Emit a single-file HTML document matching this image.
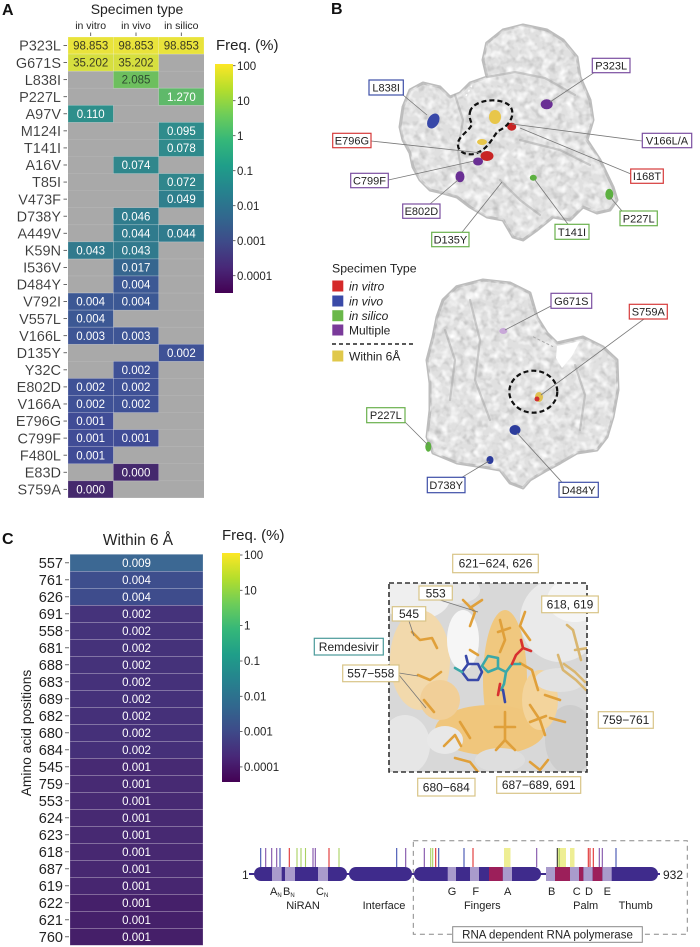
<!DOCTYPE html>
<html><head><meta charset="utf-8">
<style>
html,body{margin:0;padding:0;background:#fff;width:700px;height:947px;overflow:hidden}
svg{display:block}
text{font-family:"Liberation Sans",Arial,sans-serif}
.rl{font-size:14.5px;text-anchor:end;fill:#222}
.cv{font-size:11.5px;text-anchor:middle;fill:#fff}
.cd{fill:#3a3a22}
.tk{stroke:#444;stroke-width:0.8}
.cb{font-size:11.5px;fill:#222}
.lb{font-size:11px;text-anchor:middle;fill:#222}
.lc{font-size:12px;text-anchor:middle;fill:#222}
.dm{font-size:11px;text-anchor:middle;fill:#222}
.ll{stroke:#777;stroke-width:0.8;fill:none}
.st{stroke:#e0a03a;stroke-width:2.6;fill:none;stroke-linecap:round;stroke-linejoin:round}
</style></head><body>
<svg width="700" height="947" viewBox="0 0 700 947" xmlns="http://www.w3.org/2000/svg">
<defs>
<linearGradient id="vir" x1="0" y1="0" x2="0" y2="1">
<stop offset="0" stop-color="#fde725"/><stop offset="0.111" stop-color="#b4de2c"/><stop offset="0.222" stop-color="#6dcd59"/><stop offset="0.333" stop-color="#35b779"/><stop offset="0.444" stop-color="#1f9e89"/><stop offset="0.556" stop-color="#26828e"/><stop offset="0.667" stop-color="#31688e"/><stop offset="0.778" stop-color="#3e4a89"/><stop offset="0.889" stop-color="#482878"/><stop offset="1" stop-color="#440154"/>
</linearGradient>
<filter id="tex" x="0" y="0" width="1" height="1">
<feTurbulence type="fractalNoise" baseFrequency="0.14" numOctaves="2" seed="7"/>
<feColorMatrix type="matrix" values="0 0 0 0 0.45  0 0 0 0 0.45  0 0 0 0 0.45  1.8 0 0 0 -0.85"/>
<feComposite in2="SourceGraphic" operator="in"/>
</filter>
<filter id="hil" x="0" y="0" width="1" height="1">
<feTurbulence type="fractalNoise" baseFrequency="0.12" numOctaves="2" seed="21"/>
<feColorMatrix type="matrix" values="0 0 0 0 1  0 0 0 0 1  0 0 0 0 1  2.4 0 0 0 -1.05"/>
<feComposite in2="SourceGraphic" operator="in"/>
</filter>
<clipPath id="cbox"><rect x="389" y="583" width="198" height="189"/></clipPath>
<path id="prot1" d="M486.7,43 L503,30 L523,25 L547,30 L563,40 L577,57 L580,77 L590,100 L593,120 L587,140 L600,160 L613,187 L617,200 L610,210 L597,213 L583,207 L570,220 L553,217 L537,230 L523,240 L513,237 L503,220 L487,217 L470,207 L457,197 L443,193 L430,190 L420,180 L413,167 L410,153 L403,140 L400,127 L403,107 L410,90 L423,83 L440,87 L450,97 L460,93 L470,83 L487,77 L483,60 Z"/>
<path id="prot2" d="M456.7,286.7 L483,280 L510,283 L530,293 L537,317 L547,333 L557,343 L583,337 L603,347 L617,360 L618,390 L613,417 L607,437 L597,450 L577,453 L560,463 L547,470 L530,480 L523,488 L510,483 L500,470 L483,467 L457,463 L433,453 L427,437 L430,410 L430,383 L427,360 L433,337 L437,317 L443,300 Z"/>
</defs>

<!-- ============ PANEL A ============ -->
<text x="2" y="15" style="font-size:16px;font-weight:bold;fill:#111">A</text>
<text x="137" y="14" style="font-size:14px;text-anchor:middle;fill:#222">Specimen type</text>
<text x="90.7" y="29" style="font-size:10.5px;text-anchor:middle;fill:#222">in vitro</text>
<text x="136" y="29" style="font-size:10.5px;text-anchor:middle;fill:#222">in vivo</text>
<text x="181.3" y="29" style="font-size:10.5px;text-anchor:middle;fill:#222">in silico</text>
<line x1="90.7" x2="90.7" y1="32.5" y2="36" class="tk"/><line x1="136" x2="136" y1="32.5" y2="36" class="tk"/><line x1="181.3" x2="181.3" y1="32.5" y2="36" class="tk"/>

<rect x="68" y="37" width="136" height="460.9" fill="#a9a9a9"/>
<g stroke="#b6b6b6" stroke-width="0.6">
<line x1="68" x2="204" y1="54.07" y2="54.07"/><line x1="68" x2="204" y1="71.14" y2="71.14"/><line x1="68" x2="204" y1="88.21" y2="88.21"/><line x1="68" x2="204" y1="105.28" y2="105.28"/><line x1="68" x2="204" y1="122.35" y2="122.35"/><line x1="68" x2="204" y1="139.42" y2="139.42"/><line x1="68" x2="204" y1="156.49" y2="156.49"/><line x1="68" x2="204" y1="173.56" y2="173.56"/><line x1="68" x2="204" y1="190.63" y2="190.63"/><line x1="68" x2="204" y1="207.7" y2="207.7"/><line x1="68" x2="204" y1="224.77" y2="224.77"/><line x1="68" x2="204" y1="241.84" y2="241.84"/><line x1="68" x2="204" y1="258.91" y2="258.91"/><line x1="68" x2="204" y1="275.98" y2="275.98"/><line x1="68" x2="204" y1="293.05" y2="293.05"/><line x1="68" x2="204" y1="310.12" y2="310.12"/><line x1="68" x2="204" y1="327.19" y2="327.19"/><line x1="68" x2="204" y1="344.26" y2="344.26"/><line x1="68" x2="204" y1="361.33" y2="361.33"/><line x1="68" x2="204" y1="378.4" y2="378.4"/><line x1="68" x2="204" y1="395.47" y2="395.47"/><line x1="68" x2="204" y1="412.54" y2="412.54"/><line x1="68" x2="204" y1="429.61" y2="429.61"/><line x1="68" x2="204" y1="446.68" y2="446.68"/><line x1="68" x2="204" y1="463.75" y2="463.75"/><line x1="68" x2="204" y1="480.82" y2="480.82"/>
</g>

<g stroke="rgba(255,255,255,0.35)" stroke-width="0.6">
<g transform="translate(0,37)"><text x="61" y="13.7" class="rl">P323L</text><line x1="63.5" x2="67" y1="8.5" y2="8.5" class="tk"/>
<rect x="68" width="45.33" height="17.07" fill="#e9e33b"/><rect x="113.33" width="45.33" height="17.07" fill="#e9e33b"/><rect x="158.67" width="45.33" height="17.07" fill="#e9e33b"/>
<text x="90.67" y="12.6" class="cv cd" stroke="none">98.853</text><text x="136" y="12.6" class="cv cd" stroke="none">98.853</text><text x="181.33" y="12.6" class="cv cd" stroke="none">98.853</text></g>
<g transform="translate(0,54.07)"><text x="61" y="13.7" class="rl">G671S</text><line x1="63.5" x2="67" y1="8.5" y2="8.5" class="tk"/>
<rect x="68" width="45.33" height="17.07" fill="#d6df3f"/><rect x="113.33" width="45.33" height="17.07" fill="#d6df3f"/>
<text x="90.67" y="12.6" class="cv cd" stroke="none">35.202</text><text x="136" y="12.6" class="cv cd" stroke="none">35.202</text></g>
<g transform="translate(0,71.14)"><text x="61" y="13.7" class="rl">L838I</text><line x1="63.5" x2="67" y1="8.5" y2="8.5" class="tk"/>
<rect x="113.33" width="45.33" height="17.07" fill="#6dbf5e"/><text x="136" y="12.6" class="cv" style="fill:#2e4a30" stroke="none">2.085</text></g>
<g transform="translate(0,88.21)"><text x="61" y="13.7" class="rl">P227L</text><line x1="63.5" x2="67" y1="8.5" y2="8.5" class="tk"/>
<rect x="158.67" width="45.33" height="17.07" fill="#5fb96a"/><text x="181.33" y="12.6" class="cv" stroke="none">1.270</text></g>
<g transform="translate(0,105.28)"><text x="61" y="13.7" class="rl">A97V</text><line x1="63.5" x2="67" y1="8.5" y2="8.5" class="tk"/>
<rect x="68" width="45.33" height="17.07" fill="#2e8f8b"/><text x="90.67" y="12.6" class="cv" stroke="none">0.110</text></g>
<g transform="translate(0,122.35)"><text x="61" y="13.7" class="rl">M124I</text><line x1="63.5" x2="67" y1="8.5" y2="8.5" class="tk"/>
<rect x="158.67" width="45.33" height="17.07" fill="#2f8c8c"/><text x="181.33" y="12.6" class="cv" stroke="none">0.095</text></g>
<g transform="translate(0,139.42)"><text x="61" y="13.7" class="rl">T141I</text><line x1="63.5" x2="67" y1="8.5" y2="8.5" class="tk"/>
<rect x="158.67" width="45.33" height="17.07" fill="#2f8a8c"/><text x="181.33" y="12.6" class="cv" stroke="none">0.078</text></g>
<g transform="translate(0,156.49)"><text x="61" y="13.7" class="rl">A16V</text><line x1="63.5" x2="67" y1="8.5" y2="8.5" class="tk"/>
<rect x="113.33" width="45.33" height="17.07" fill="#30878c"/><text x="136" y="12.6" class="cv" stroke="none">0.074</text></g>
<g transform="translate(0,173.56)"><text x="61" y="13.7" class="rl">T85I</text><line x1="63.5" x2="67" y1="8.5" y2="8.5" class="tk"/>
<rect x="158.67" width="45.33" height="17.07" fill="#30868c"/><text x="181.33" y="12.6" class="cv" stroke="none">0.072</text></g>
<g transform="translate(0,190.63)"><text x="61" y="13.7" class="rl">V473F</text><line x1="63.5" x2="67" y1="8.5" y2="8.5" class="tk"/>
<rect x="158.67" width="45.33" height="17.07" fill="#2f7f8d"/><text x="181.33" y="12.6" class="cv" stroke="none">0.049</text></g>
<g transform="translate(0,207.7)"><text x="61" y="13.7" class="rl">D738Y</text><line x1="63.5" x2="67" y1="8.5" y2="8.5" class="tk"/>
<rect x="113.33" width="45.33" height="17.07" fill="#307c8d"/><text x="136" y="12.6" class="cv" stroke="none">0.046</text></g>
<g transform="translate(0,224.77)"><text x="61" y="13.7" class="rl">A449V</text><line x1="63.5" x2="67" y1="8.5" y2="8.5" class="tk"/>
<rect x="113.33" width="45.33" height="17.07" fill="#307b8d"/><rect x="158.67" width="45.33" height="17.07" fill="#307b8d"/>
<text x="136" y="12.6" class="cv" stroke="none">0.044</text><text x="181.33" y="12.6" class="cv" stroke="none">0.044</text></g>
<g transform="translate(0,241.84)"><text x="61" y="13.7" class="rl">K59N</text><line x1="63.5" x2="67" y1="8.5" y2="8.5" class="tk"/>
<rect x="68" width="45.33" height="17.07" fill="#317a8d"/><rect x="113.33" width="45.33" height="17.07" fill="#317a8d"/>
<text x="90.67" y="12.6" class="cv" stroke="none">0.043</text><text x="136" y="12.6" class="cv" stroke="none">0.043</text></g>
<g transform="translate(0,258.91)"><text x="61" y="13.7" class="rl">I536V</text><line x1="63.5" x2="67" y1="8.5" y2="8.5" class="tk"/>
<rect x="113.33" width="45.33" height="17.07" fill="#36668f"/><text x="136" y="12.6" class="cv" stroke="none">0.017</text></g>
<g transform="translate(0,275.98)"><text x="61" y="13.7" class="rl">D484Y</text><line x1="63.5" x2="67" y1="8.5" y2="8.5" class="tk"/>
<rect x="113.33" width="45.33" height="17.07" fill="#3c5894"/><text x="136" y="12.6" class="cv" stroke="none">0.004</text></g>
<g transform="translate(0,293.05)"><text x="61" y="13.7" class="rl">V792I</text><line x1="63.5" x2="67" y1="8.5" y2="8.5" class="tk"/>
<rect x="68" width="45.33" height="17.07" fill="#3c5894"/><rect x="113.33" width="45.33" height="17.07" fill="#3c5894"/>
<text x="90.67" y="12.6" class="cv" stroke="none">0.004</text><text x="136" y="12.6" class="cv" stroke="none">0.004</text></g>
<g transform="translate(0,310.12)"><text x="61" y="13.7" class="rl">V557L</text><line x1="63.5" x2="67" y1="8.5" y2="8.5" class="tk"/>
<rect x="68" width="45.33" height="17.07" fill="#3c5894"/><text x="90.67" y="12.6" class="cv" stroke="none">0.004</text></g>
<g transform="translate(0,327.19)"><text x="61" y="13.7" class="rl">V166L</text><line x1="63.5" x2="67" y1="8.5" y2="8.5" class="tk"/>
<rect x="68" width="45.33" height="17.07" fill="#3e5595"/><rect x="113.33" width="45.33" height="17.07" fill="#3e5595"/>
<text x="90.67" y="12.6" class="cv" stroke="none">0.003</text><text x="136" y="12.6" class="cv" stroke="none">0.003</text></g>
<g transform="translate(0,344.26)"><text x="61" y="13.7" class="rl">D135Y</text><line x1="63.5" x2="67" y1="8.5" y2="8.5" class="tk"/>
<rect x="158.67" width="45.33" height="17.07" fill="#3f5296"/><text x="181.33" y="12.6" class="cv" stroke="none">0.002</text></g>
<g transform="translate(0,361.33)"><text x="61" y="13.7" class="rl">Y32C</text><line x1="63.5" x2="67" y1="8.5" y2="8.5" class="tk"/>
<rect x="113.33" width="45.33" height="17.07" fill="#3f5196"/><text x="136" y="12.6" class="cv" stroke="none">0.002</text></g>
<g transform="translate(0,378.4)"><text x="61" y="13.7" class="rl">E802D</text><line x1="63.5" x2="67" y1="8.5" y2="8.5" class="tk"/>
<rect x="68" width="45.33" height="17.07" fill="#3f5196"/><rect x="113.33" width="45.33" height="17.07" fill="#3f5196"/>
<text x="90.67" y="12.6" class="cv" stroke="none">0.002</text><text x="136" y="12.6" class="cv" stroke="none">0.002</text></g>
<g transform="translate(0,395.47)"><text x="61" y="13.7" class="rl">V166A</text><line x1="63.5" x2="67" y1="8.5" y2="8.5" class="tk"/>
<rect x="68" width="45.33" height="17.07" fill="#3f5196"/><rect x="113.33" width="45.33" height="17.07" fill="#3f5196"/>
<text x="90.67" y="12.6" class="cv" stroke="none">0.002</text><text x="136" y="12.6" class="cv" stroke="none">0.002</text></g>
<g transform="translate(0,412.54)"><text x="61" y="13.7" class="rl">E796G</text><line x1="63.5" x2="67" y1="8.5" y2="8.5" class="tk"/>
<rect x="68" width="45.33" height="17.07" fill="#404c96"/><text x="90.67" y="12.6" class="cv" stroke="none">0.001</text></g>
<g transform="translate(0,429.61)"><text x="61" y="13.7" class="rl">C799F</text><line x1="63.5" x2="67" y1="8.5" y2="8.5" class="tk"/>
<rect x="68" width="45.33" height="17.07" fill="#404c96"/><rect x="113.33" width="45.33" height="17.07" fill="#404c96"/>
<text x="90.67" y="12.6" class="cv" stroke="none">0.001</text><text x="136" y="12.6" class="cv" stroke="none">0.001</text></g>
<g transform="translate(0,446.68)"><text x="61" y="13.7" class="rl">F480L</text><line x1="63.5" x2="67" y1="8.5" y2="8.5" class="tk"/>
<rect x="68" width="45.33" height="17.07" fill="#404c96"/><text x="90.67" y="12.6" class="cv" stroke="none">0.001</text></g>
<g transform="translate(0,463.75)"><text x="61" y="13.7" class="rl">E83D</text><line x1="63.5" x2="67" y1="8.5" y2="8.5" class="tk"/>
<rect x="113.33" width="45.33" height="17.07" fill="#45296d"/><text x="136" y="12.6" class="cv" stroke="none">0.000</text></g>
<g transform="translate(0,480.82)"><text x="61" y="13.7" class="rl">S759A</text><line x1="63.5" x2="67" y1="8.5" y2="8.5" class="tk"/>
<rect x="68" width="45.33" height="17.07" fill="#45296d"/><text x="90.67" y="12.6" class="cv" stroke="none">0.000</text></g>
</g>

<!-- colorbar A -->
<text x="216" y="50" style="font-size:15px;fill:#222">Freq. (%)</text>
<rect x="215" y="64" width="18" height="229" fill="url(#vir)"/>
<g class="tk"><line x1="233" x2="235.5" y1="65.7" y2="65.7"/><line x1="233" x2="235.5" y1="100.7" y2="100.7"/><line x1="233" x2="235.5" y1="135.7" y2="135.7"/><line x1="233" x2="235.5" y1="170.7" y2="170.7"/><line x1="233" x2="235.5" y1="205.7" y2="205.7"/><line x1="233" x2="235.5" y1="240.7" y2="240.7"/><line x1="233" x2="235.5" y1="275.7" y2="275.7"/></g>
<text x="237" y="69.8" class="cb">100</text><text x="237" y="104.8" class="cb">10</text><text x="237" y="139.8" class="cb">1</text><text x="237" y="174.8" class="cb">0.1</text><text x="237" y="209.8" class="cb">0.01</text><text x="237" y="244.8" class="cb">0.001</text><text x="237" y="279.8" class="cb">0.0001</text>

<!-- ============ PANEL B ============ -->
<text x="331" y="14" style="font-size:16px;font-weight:bold;fill:#111">B</text>

<!-- top protein -->
<use href="#prot1" fill="#e0e0e0" stroke="#bdbdbd" stroke-width="3" stroke-linejoin="round"/>
<use href="#prot1" fill="#000" filter="url(#tex)"/>
<use href="#prot1" fill="#000" filter="url(#hil)"/>
<g stroke="#a4a4a4" stroke-width="2.2" fill="none" opacity="0.5" stroke-linecap="round">
<path d="M455,95 L463,120 L458,150 L462,175"/>
<path d="M487,77 L515,72 L545,78 L575,95"/>
<path d="M520,140 L560,150 L590,165"/>
<path d="M500,180 L520,200 L540,215"/>
</g>
<line x1="466" y1="96" x2="472" y2="85" stroke="#fff" stroke-width="1.5" stroke-dasharray="2,3"/>

<!-- spots top -->
<ellipse cx="433.3" cy="121" rx="5.5" ry="8" fill="#3848a8" transform="rotate(30 433.3 121)"/>
<ellipse cx="546.7" cy="104.3" rx="6" ry="5" fill="#6a2f94"/>
<ellipse cx="495" cy="117" rx="6" ry="7" fill="#e8c64a"/>
<ellipse cx="482" cy="142" rx="5" ry="3" fill="#e8c64a"/>
<ellipse cx="511.7" cy="126.7" rx="4.5" ry="4" fill="#c82424"/>
<ellipse cx="487" cy="156" rx="6.5" ry="5" fill="#c82424"/>
<ellipse cx="478" cy="161.5" rx="5" ry="4" fill="#6a2f94"/>
<ellipse cx="460" cy="176.7" rx="4.5" ry="5.5" fill="#6a2f94"/>
<ellipse cx="533.3" cy="177.7" rx="3.5" ry="3" fill="#5cb040"/>
<ellipse cx="609.3" cy="194.3" rx="4" ry="5.5" fill="#5cb040"/>
<path d="M470,112 C472,100 500,96 510,106 C516,114 510,126 498,131 C492,138 488,150 474,154 C462,156 455,148 459,140 C462,134 470,130 472,124 C470,120 469,116 470,112 Z" fill="none" stroke="#111" stroke-width="2.2" stroke-dasharray="5,3"/>

<!-- leader lines top -->
<g class="ll">
<line x1="403" y1="95" x2="427" y2="115"/>
<line x1="594" y1="72.7" x2="550" y2="102"/>
<line x1="371" y1="141" x2="482" y2="153"/>
<line x1="642.3" y1="141" x2="512" y2="124"/>
<line x1="631" y1="174" x2="520" y2="128"/>
<line x1="388.3" y1="180" x2="474" y2="161"/>
<line x1="430" y1="204" x2="458" y2="180"/>
<line x1="462" y1="232.3" x2="502" y2="182"/>
<line x1="568" y1="224.3" x2="535" y2="180"/>
<line x1="622" y1="211" x2="610" y2="197"/>
</g>

<!-- label boxes top -->
<g fill="#fff" stroke-width="1.2">
<rect x="592.3" y="58.3" width="37.7" height="14.4" stroke="#7b4fa0"/>
<rect x="369" y="80" width="34.3" height="15" stroke="#3e4fa8"/>
<rect x="332.7" y="133.3" width="38.3" height="14.4" stroke="#d63a3a"/>
<rect x="642.3" y="133.3" width="49.4" height="14.4" stroke="#7b4fa0"/>
<rect x="350.7" y="173.3" width="37.6" height="14.4" stroke="#7b4fa0"/>
<rect x="630.7" y="169" width="32.6" height="14.3" stroke="#d63a3a"/>
<rect x="402.7" y="204" width="37.3" height="14.3" stroke="#7b4fa0"/>
<rect x="620" y="211" width="37.3" height="14.7" stroke="#6ab04c"/>
<rect x="555" y="224.3" width="34" height="15" stroke="#6ab04c"/>
<rect x="431.7" y="232.3" width="37.3" height="14.4" stroke="#6ab04c"/>
</g>
<text x="611.2" y="69.5" class="lb">P323L</text>
<text x="386.2" y="91.5" class="lb">L838I</text>
<text x="351.9" y="144.5" class="lb">E796G</text>
<text x="667" y="144.5" class="lb">V166L/A</text>
<text x="369.5" y="184.5" class="lb">C799F</text>
<text x="647" y="180" class="lb">I168T</text>
<text x="421.4" y="215.2" class="lb">E802D</text>
<text x="638.7" y="222.4" class="lb">P227L</text>
<text x="572" y="235.8" class="lb">T141I</text>
<text x="450.4" y="243.5" class="lb">D135Y</text>

<!-- legend -->
<text x="332" y="272.5" style="font-size:12.3px;fill:#222">Specimen Type</text>
<rect x="332.3" y="280.5" width="11" height="11" fill="#d42a2a"/>
<rect x="332.3" y="295.5" width="11" height="11" fill="#3a4aa8"/>
<rect x="332.3" y="310.2" width="11" height="11" fill="#6ab84a"/>
<rect x="332.3" y="324.5" width="11" height="11" fill="#7a3a9a"/>
<text x="349" y="290.5" style="font-size:12px;font-style:italic;fill:#222">in vitro</text>
<text x="349" y="305.5" style="font-size:12px;font-style:italic;fill:#222">in vivo</text>
<text x="349" y="320.2" style="font-size:12px;font-style:italic;fill:#222">in silico</text>
<text x="349" y="334.5" style="font-size:12px;fill:#222">Multiple</text>
<line x1="332" y1="344" x2="415" y2="344" stroke="#222" stroke-width="1.4" stroke-dasharray="4,3"/>
<rect x="332.3" y="350.5" width="11" height="11" fill="#e0c84a"/>
<text x="349" y="360.5" style="font-size:12px;fill:#222">Within 6Å</text>

<!-- bottom protein -->
<use href="#prot2" fill="#e0e0e0" stroke="#bdbdbd" stroke-width="3" stroke-linejoin="round"/>
<use href="#prot2" fill="#000" filter="url(#tex)"/>
<use href="#prot2" fill="#000" filter="url(#hil)"/>
<path d="M557,346 L580,341 L572,356 L562,368 L556,358 Z" fill="#fff"/>
<g stroke="#a4a4a4" stroke-width="2.2" fill="none" opacity="0.5" stroke-linecap="round">
<path d="M470,300 L480,340 L475,380 L490,420"/>
<path d="M575,365 L585,395 L580,430"/>
<path d="M445,330 L455,360 L450,400"/>
</g>
<line x1="533" y1="336.7" x2="553" y2="346.7" stroke="#aaa" stroke-width="1" stroke-dasharray="3,2"/>
<ellipse cx="503.3" cy="331" rx="4" ry="3" fill="#c8a8d8"/>
<ellipse cx="539" cy="397" rx="4" ry="5" fill="#e0c050"/>
<ellipse cx="537" cy="399" rx="2.5" ry="2.5" fill="#d03030"/>
<ellipse cx="515" cy="430" rx="5.5" ry="5" fill="#2c3c9c"/>
<ellipse cx="428.3" cy="446.7" rx="3" ry="5" fill="#5cb040"/>
<ellipse cx="490" cy="460" rx="3.5" ry="4" fill="#2c3c9c"/>
<ellipse cx="533.3" cy="391.7" rx="24" ry="21" fill="none" stroke="#111" stroke-width="2.2" stroke-dasharray="5,3"/>
<g class="ll">
<line x1="551" y1="306" x2="505" y2="330"/>
<line x1="644" y1="319" x2="541" y2="395"/>
<line x1="405" y1="422" x2="428" y2="445"/>
<line x1="462" y1="477.3" x2="489" y2="461"/>
<line x1="562" y1="482.3" x2="517" y2="433"/>
</g>
<g fill="#fff" stroke-width="1.2">
<rect x="551" y="293.3" width="40.7" height="15" stroke="#7b4fa0"/>
<rect x="629.3" y="304.3" width="38" height="14.7" stroke="#d63a3a"/>
<rect x="366.7" y="407.7" width="38.3" height="15" stroke="#6ab04c"/>
<rect x="427.3" y="477.3" width="37.7" height="15.4" stroke="#3e4fa8"/>
<rect x="559" y="482.3" width="39.3" height="15" stroke="#3e4fa8"/>
</g>
<text x="571.3" y="304.8" class="lb">G671S</text>
<text x="648.3" y="315.7" class="lb">S759A</text>
<text x="385.8" y="419.2" class="lb">P227L</text>
<text x="446.2" y="489" class="lb">D738Y</text>
<text x="578.6" y="493.8" class="lb">D484Y</text>

<!-- ============ PANEL C ============ -->
<text x="2" y="544" style="font-size:16px;font-weight:bold;fill:#111">C</text>
<text x="138" y="545" style="font-size:15.4px;text-anchor:middle;fill:#222">Within 6 Å</text>
<text transform="translate(31,733) rotate(-90)" style="font-size:13.8px;text-anchor:middle;fill:#222">Amino acid positions</text>

<g stroke="rgba(255,255,255,0.35)" stroke-width="0.6">
<g transform="translate(0,554.3)"><rect x="70" width="133" height="17" fill="#3c6893"/><text x="136.5" y="12.6" class="cv" stroke="none">0.009</text><text x="63" y="13.7" class="rl" stroke="none">557</text></g>
<g transform="translate(0,571.3)"><rect x="70" width="133" height="17" fill="#3e4e8d"/><text x="136.5" y="12.6" class="cv" stroke="none">0.004</text><text x="63" y="13.7" class="rl" stroke="none">761</text></g>
<g transform="translate(0,588.3)"><rect x="70" width="133" height="17" fill="#3e4c8c"/><text x="136.5" y="12.6" class="cv" stroke="none">0.004</text><text x="63" y="13.7" class="rl" stroke="none">626</text></g>
<g transform="translate(0,605.3)"><rect x="70" width="133" height="17" fill="#45337b"/><text x="136.5" y="12.6" class="cv" stroke="none">0.002</text><text x="63" y="13.7" class="rl" stroke="none">691</text></g>
<g transform="translate(0,622.3)"><rect x="70" width="133" height="17" fill="#45337b"/><text x="136.5" y="12.6" class="cv" stroke="none">0.002</text><text x="63" y="13.7" class="rl" stroke="none">558</text></g>
<g transform="translate(0,639.3)"><rect x="70" width="133" height="17" fill="#45327a"/><text x="136.5" y="12.6" class="cv" stroke="none">0.002</text><text x="63" y="13.7" class="rl" stroke="none">681</text></g>
<g transform="translate(0,656.3)"><rect x="70" width="133" height="17" fill="#45327a"/><text x="136.5" y="12.6" class="cv" stroke="none">0.002</text><text x="63" y="13.7" class="rl" stroke="none">688</text></g>
<g transform="translate(0,673.3)"><rect x="70" width="133" height="17" fill="#45317a"/><text x="136.5" y="12.6" class="cv" stroke="none">0.002</text><text x="63" y="13.7" class="rl" stroke="none">683</text></g>
<g transform="translate(0,690.3)"><rect x="70" width="133" height="17" fill="#45317a"/><text x="136.5" y="12.6" class="cv" stroke="none">0.002</text><text x="63" y="13.7" class="rl" stroke="none">689</text></g>
<g transform="translate(0,707.3)"><rect x="70" width="133" height="17" fill="#453079"/><text x="136.5" y="12.6" class="cv" stroke="none">0.002</text><text x="63" y="13.7" class="rl" stroke="none">682</text></g>
<g transform="translate(0,724.3)"><rect x="70" width="133" height="17" fill="#453079"/><text x="136.5" y="12.6" class="cv" stroke="none">0.002</text><text x="63" y="13.7" class="rl" stroke="none">680</text></g>
<g transform="translate(0,741.3)"><rect x="70" width="133" height="17" fill="#453079"/><text x="136.5" y="12.6" class="cv" stroke="none">0.002</text><text x="63" y="13.7" class="rl" stroke="none">684</text></g>
<g transform="translate(0,758.3)"><rect x="70" width="133" height="17" fill="#472a73"/><text x="136.5" y="12.6" class="cv" stroke="none">0.001</text><text x="63" y="13.7" class="rl" stroke="none">545</text></g>
<g transform="translate(0,775.3)"><rect x="70" width="133" height="17" fill="#472a73"/><text x="136.5" y="12.6" class="cv" stroke="none">0.001</text><text x="63" y="13.7" class="rl" stroke="none">759</text></g>
<g transform="translate(0,792.3)"><rect x="70" width="133" height="17" fill="#472a73"/><text x="136.5" y="12.6" class="cv" stroke="none">0.001</text><text x="63" y="13.7" class="rl" stroke="none">553</text></g>
<g transform="translate(0,809.3)"><rect x="70" width="133" height="17" fill="#472972"/><text x="136.5" y="12.6" class="cv" stroke="none">0.001</text><text x="63" y="13.7" class="rl" stroke="none">624</text></g>
<g transform="translate(0,826.3)"><rect x="70" width="133" height="17" fill="#472972"/><text x="136.5" y="12.6" class="cv" stroke="none">0.001</text><text x="63" y="13.7" class="rl" stroke="none">623</text></g>
<g transform="translate(0,843.3)"><rect x="70" width="133" height="17" fill="#472871"/><text x="136.5" y="12.6" class="cv" stroke="none">0.001</text><text x="63" y="13.7" class="rl" stroke="none">618</text></g>
<g transform="translate(0,860.3)"><rect x="70" width="133" height="17" fill="#472871"/><text x="136.5" y="12.6" class="cv" stroke="none">0.001</text><text x="63" y="13.7" class="rl" stroke="none">687</text></g>
<g transform="translate(0,877.3)"><rect x="70" width="133" height="17" fill="#472670"/><text x="136.5" y="12.6" class="cv" stroke="none">0.001</text><text x="63" y="13.7" class="rl" stroke="none">619</text></g>
<g transform="translate(0,894.3)"><rect x="70" width="133" height="17" fill="#45206a"/><text x="136.5" y="12.6" class="cv" stroke="none">0.001</text><text x="63" y="13.7" class="rl" stroke="none">622</text></g>
<g transform="translate(0,911.3)"><rect x="70" width="133" height="17" fill="#45206a"/><text x="136.5" y="12.6" class="cv" stroke="none">0.001</text><text x="63" y="13.7" class="rl" stroke="none">621</text></g>
<g transform="translate(0,928.3)"><rect x="70" width="133" height="17" fill="#451f69"/><text x="136.5" y="12.6" class="cv" stroke="none">0.001</text><text x="63" y="13.7" class="rl" stroke="none">760</text></g>
</g>
<g class="tk">
<line x1="65" x2="69" y1="562.8" y2="562.8"/><line x1="65" x2="69" y1="579.8" y2="579.8"/><line x1="65" x2="69" y1="596.8" y2="596.8"/><line x1="65" x2="69" y1="613.8" y2="613.8"/><line x1="65" x2="69" y1="630.8" y2="630.8"/><line x1="65" x2="69" y1="647.8" y2="647.8"/><line x1="65" x2="69" y1="664.8" y2="664.8"/><line x1="65" x2="69" y1="681.8" y2="681.8"/><line x1="65" x2="69" y1="698.8" y2="698.8"/><line x1="65" x2="69" y1="715.8" y2="715.8"/><line x1="65" x2="69" y1="732.8" y2="732.8"/><line x1="65" x2="69" y1="749.8" y2="749.8"/><line x1="65" x2="69" y1="766.8" y2="766.8"/><line x1="65" x2="69" y1="783.8" y2="783.8"/><line x1="65" x2="69" y1="800.8" y2="800.8"/><line x1="65" x2="69" y1="817.8" y2="817.8"/><line x1="65" x2="69" y1="834.8" y2="834.8"/><line x1="65" x2="69" y1="851.8" y2="851.8"/><line x1="65" x2="69" y1="868.8" y2="868.8"/><line x1="65" x2="69" y1="885.8" y2="885.8"/><line x1="65" x2="69" y1="902.8" y2="902.8"/><line x1="65" x2="69" y1="919.8" y2="919.8"/><line x1="65" x2="69" y1="936.8" y2="936.8"/>
</g>

<!-- colorbar C -->
<text x="222" y="540" style="font-size:15px;fill:#222">Freq. (%)</text>
<rect x="222" y="553" width="18" height="229" fill="url(#vir)"/>
<g class="tk"><line x1="240" x2="242.5" y1="555" y2="555"/><line x1="240" x2="242.5" y1="590.3" y2="590.3"/><line x1="240" x2="242.5" y1="625.6" y2="625.6"/><line x1="240" x2="242.5" y1="661" y2="661"/><line x1="240" x2="242.5" y1="696.3" y2="696.3"/><line x1="240" x2="242.5" y1="731.6" y2="731.6"/><line x1="240" x2="242.5" y1="766.9" y2="766.9"/></g>
<text x="244" y="559.1" class="cb">100</text><text x="244" y="594.4" class="cb">10</text><text x="244" y="629.7" class="cb">1</text><text x="244" y="665.1" class="cb">0.1</text><text x="244" y="700.4" class="cb">0.01</text><text x="244" y="735.7" class="cb">0.001</text><text x="244" y="771" class="cb">0.0001</text>

<!-- pocket image -->
<g clip-path="url(#cbox)">
<rect x="389" y="583" width="198" height="189" fill="#d8d8d8"/>
<ellipse cx="415" cy="598" rx="35" ry="22" fill="#efefef"/>
<ellipse cx="455" cy="590" rx="25" ry="14" fill="#e6e6e6"/>
<ellipse cx="560" cy="620" rx="40" ry="42" fill="#eaeaea"/>
<ellipse cx="575" cy="600" rx="28" ry="22" fill="#f5f5f5"/>
<ellipse cx="405" cy="745" rx="25" ry="30" fill="#e6e6e6"/>
<ellipse cx="570" cy="740" rx="25" ry="35" fill="#cdcdcd"/>
<ellipse cx="420" cy="660" rx="30" ry="50" fill="#f2d9ac"/>
<ellipse cx="463" cy="640" rx="16" ry="30" fill="#f6f6f6"/>
<ellipse cx="505" cy="680" rx="22" ry="70" fill="#f0c87f"/>
<ellipse cx="490" cy="730" rx="55" ry="25" fill="#f0c67c"/>
<ellipse cx="540" cy="700" rx="18" ry="30" fill="#f3d49c"/>
<ellipse cx="440" cy="700" rx="20" ry="20" fill="#f1cf98"/>
<ellipse cx="445" cy="740" rx="18" ry="14" fill="#e8e8e8"/>
<ellipse cx="500" cy="760" rx="25" ry="12" fill="#dedede"/>
<ellipse cx="560" cy="680" rx="25" ry="12" fill="#e2e2e2"/>
<g class="st">
<polyline points="412,632 420,640 432,638 437,648"/>
<polyline points="463,600 475,612 470,626"/>
<polyline points="470,608 482,600"/>
<polyline points="500,620 505,640 500,652"/>
<polyline points="498,632 510,628"/>
<polyline points="525,612 520,626 530,640"/>
<polyline points="418,675 430,680 441,672"/>
<polyline points="424,700 434,712"/>
<polyline points="444,746 455,735 461,746"/>
<polyline points="460,722 470,738"/>
<polyline points="505,712 505,740 496,750"/>
<polyline points="495,727 515,727"/>
<polyline points="505,740 515,750"/>
<polyline points="530,705 540,720 545,735"/>
<polyline points="530,722 546,716"/>
<polyline points="545,695 560,700"/>
<polyline points="550,718 565,722"/>
<polyline points="455,758 470,762 478,772"/>
<polyline points="530,762 540,770 548,760"/>
<polyline points="558,655 563,670 576,680 586,690" style="stroke:#d9b670"/>
<polyline points="564,664 575,672 585,682" style="stroke:#d9b670"/>
<polyline points="567,625 573,630 577,645 581,660" style="stroke:#d9b670"/>
<polyline points="575,650 588,648" style="stroke:#d9b670"/>
<polyline points="520,663 532,670 538,690"/>
<polyline points="478,655 470,650"/>
</g>
<g fill="none" stroke-width="2.6" stroke-linecap="round" stroke-linejoin="round">
<polygon points="462,672 468,664 478,664 482,672 478,680 468,680" stroke="#3848a8"/>
<polyline points="468,664 466,656" stroke="#3848a8"/>
<polygon points="482,666 488,656 498,658 498,668 488,672" stroke="#3aa8a8"/>
<polyline points="498,668 506,672 512,664 520,664" stroke="#3aa8a8"/>
<polyline points="506,672 504,684 501,690" stroke="#3aa8a8"/>
<polyline points="512,664 516,655 523,648" stroke="#d83030"/>
<polyline points="523,648 531,651" stroke="#d83030"/>
<polyline points="523,648 521,640" stroke="#d83030"/>
<polyline points="500,684 498,695" stroke="#d83030"/>
<polyline points="503,690 505,702" stroke="#3848a8"/>
<polyline points="462,672 455,668" stroke="#3aa8a8"/>
</g>
</g>
<rect x="389" y="583" width="198" height="189" fill="none" stroke="#333" stroke-width="1.6" stroke-dasharray="5,3"/>

<g class="ll">
<line x1="440" y1="600" x2="478" y2="612"/>
<line x1="409" y1="621" x2="414" y2="636"/>
<line x1="399" y1="673" x2="418" y2="676"/>
<line x1="399" y1="675" x2="426" y2="708"/>
</g>
<g fill="#fff" stroke="#d8c487" stroke-width="1.2">
<rect x="452.7" y="554.3" width="85.6" height="18.4"/>
<rect x="419" y="586" width="33.3" height="14"/>
<rect x="392.3" y="606.7" width="33.4" height="14.3"/>
<rect x="541.7" y="596" width="56.6" height="16.7"/>
<rect x="314.3" y="638.3" width="69" height="16.7" stroke="#4a9a9a"/>
<rect x="342.7" y="665" width="56.3" height="16.7"/>
<rect x="598.3" y="711.7" width="55" height="16.6"/>
<rect x="417.7" y="778.3" width="57.3" height="17.7"/>
<rect x="496.7" y="776.7" width="84" height="16.6"/>
</g>
<text x="495.5" y="567.7" class="lc">621−624, 626</text>
<text x="435.7" y="597.3" class="lc">553</text>
<text x="409" y="618.2" class="lc">545</text>
<text x="570" y="608.6" class="lc">618, 619</text>
<text x="348.8" y="650.9" class="lc">Remdesivir</text>
<text x="370.8" y="677.6" class="lc">557−558</text>
<text x="625.8" y="724.2" class="lc">759−761</text>
<text x="446.3" y="791.4" class="lc">680−684</text>
<text x="538.7" y="789.2" class="lc">687−689, 691</text>

<!-- domain diagram -->
<rect x="413.3" y="840.7" width="274" height="93.6" fill="none" stroke="#888" stroke-width="1" stroke-dasharray="5,4"/>
<rect x="452.7" y="926.7" width="189.6" height="15.6" fill="#fff" stroke="#888" stroke-width="1"/>
<text x="547.5" y="938.7" style="font-size:11.5px;text-anchor:middle;fill:#222">RNA dependent RNA polymerase</text>

<rect x="504" y="848" width="6.5" height="19" fill="#eeee94"/>
<rect x="557" y="848" width="9" height="19" fill="#eeee94"/>
<rect x="570" y="848" width="4.5" height="19" fill="#eeee94"/>
<g stroke-width="1.1">
<line x1="260.7" x2="260.7" y1="848" y2="867" stroke="#4050b0"/>
<line x1="265.7" x2="265.7" y1="848" y2="867" stroke="#8050a8"/>
<line x1="271.7" x2="271.7" y1="848" y2="867" stroke="#8050a8"/>
<line x1="276.7" x2="276.7" y1="848" y2="867" stroke="#8050a8"/>
<line x1="280" x2="280" y1="848" y2="867" stroke="#4050b0"/>
<line x1="289.3" x2="289.3" y1="848" y2="867" stroke="#e03030"/>
<line x1="297" x2="297" y1="848" y2="867" stroke="#a8d060"/>
<line x1="301" x2="301" y1="848" y2="867" stroke="#a8d060"/>
<line x1="305.5" x2="305.5" y1="848" y2="867" stroke="#a8d060"/>
<line x1="313" x2="313" y1="848" y2="867" stroke="#8050a8"/>
<line x1="315.3" x2="315.3" y1="848" y2="867" stroke="#8050a8"/>
<line x1="329" x2="329" y1="848" y2="867" stroke="#e03030"/>
<line x1="339" x2="339" y1="848" y2="867" stroke="#a8d060"/>
<line x1="396.7" x2="396.7" y1="848" y2="867" stroke="#4050b0"/>
<line x1="405.7" x2="405.7" y1="848" y2="867" stroke="#8050a8"/>
<line x1="424.3" x2="424.3" y1="848" y2="867" stroke="#8050a8"/>
<line x1="430.7" x2="430.7" y1="848" y2="867" stroke="#a8d060"/>
<line x1="432.7" x2="432.7" y1="848" y2="867" stroke="#a8d060"/>
<line x1="435.7" x2="435.7" y1="848" y2="867" stroke="#e03030"/>
<line x1="438.7" x2="438.7" y1="848" y2="867" stroke="#4050b0"/>
<line x1="464" x2="464" y1="848" y2="867" stroke="#4050b0"/>
<line x1="473" x2="473" y1="848" y2="867" stroke="#e03030"/>
<line x1="536.7" x2="536.7" y1="848" y2="867" stroke="#8050a8"/>
<line x1="557.3" x2="557.3" y1="848" y2="867" stroke="#333"/>
<line x1="559.3" x2="559.3" y1="848" y2="867" stroke="#a8d060"/>
<line x1="588.3" x2="588.3" y1="848" y2="867" stroke="#e03030"/>
<line x1="590" x2="590" y1="848" y2="867" stroke="#e03030"/>
<line x1="593.3" x2="593.3" y1="848" y2="867" stroke="#e03030"/>
<line x1="599.3" x2="599.3" y1="848" y2="867" stroke="#8050a8"/>
<line x1="602.3" x2="602.3" y1="848" y2="867" stroke="#8050a8"/>
<line x1="616" x2="616" y1="848" y2="867" stroke="#4050b0"/>
</g>
<line x1="249" x2="660" y1="874" y2="874" stroke="#3f2b8c" stroke-width="2"/>
<rect x="254" y="867" width="93" height="14" rx="7" fill="#3f2b8c"/>
<rect x="349" y="867" width="63" height="14" rx="7" fill="#3f2b8c"/>
<rect x="414" y="867" width="127" height="14" rx="7" fill="#3f2b8c"/>
<rect x="546" y="867" width="112" height="14" rx="7" fill="#3f2b8c"/>
<g fill="#a99bcc">
<rect x="272" y="867" width="9.7" height="14"/><rect x="285" y="867" width="10" height="14"/><rect x="318" y="867" width="10" height="14"/>
<rect x="447.7" y="867" width="8.3" height="14"/><rect x="470" y="867" width="9" height="14"/><rect x="502.7" y="867" width="9.3" height="14"/>
<rect x="546" y="867" width="9" height="14"/><rect x="570" y="867" width="9" height="14"/><rect x="583.3" y="867" width="9.4" height="14"/><rect x="602.3" y="867" width="9.4" height="14"/>
</g>
<g fill="#9c1f5a">
<rect x="489" y="867" width="13.7" height="14"/><rect x="555" y="867" width="15" height="14"/><rect x="579" y="867" width="4.3" height="14"/><rect x="592.7" y="867" width="9.6" height="14"/>
</g>
<text x="242" y="879" style="font-size:12px;fill:#222">1</text>
<text x="663" y="879" style="font-size:12px;fill:#222">932</text>
<text x="270" y="895" class="dm" style="text-anchor:start">A<tspan dy="2" style="font-size:6px">N</tspan></text>
<text x="283" y="895" class="dm" style="text-anchor:start">B<tspan dy="2" style="font-size:6px">N</tspan></text>
<text x="316" y="895" class="dm" style="text-anchor:start">C<tspan dy="2" style="font-size:6px">N</tspan></text>
<text x="303" y="909" class="dm">NiRAN</text>
<text x="384" y="909" class="dm">Interface</text>
<text x="452" y="895" class="dm">G</text>
<text x="475.7" y="895" class="dm">F</text>
<text x="507.7" y="895" class="dm">A</text>
<text x="551.7" y="895" class="dm">B</text>
<text x="576.7" y="895" class="dm">C</text>
<text x="589" y="895" class="dm">D</text>
<text x="607.3" y="895" class="dm">E</text>
<text x="482.3" y="909" class="dm">Fingers</text>
<text x="585.7" y="909" class="dm">Palm</text>
<text x="635.7" y="909" class="dm">Thumb</text>
</svg>
</body></html>
